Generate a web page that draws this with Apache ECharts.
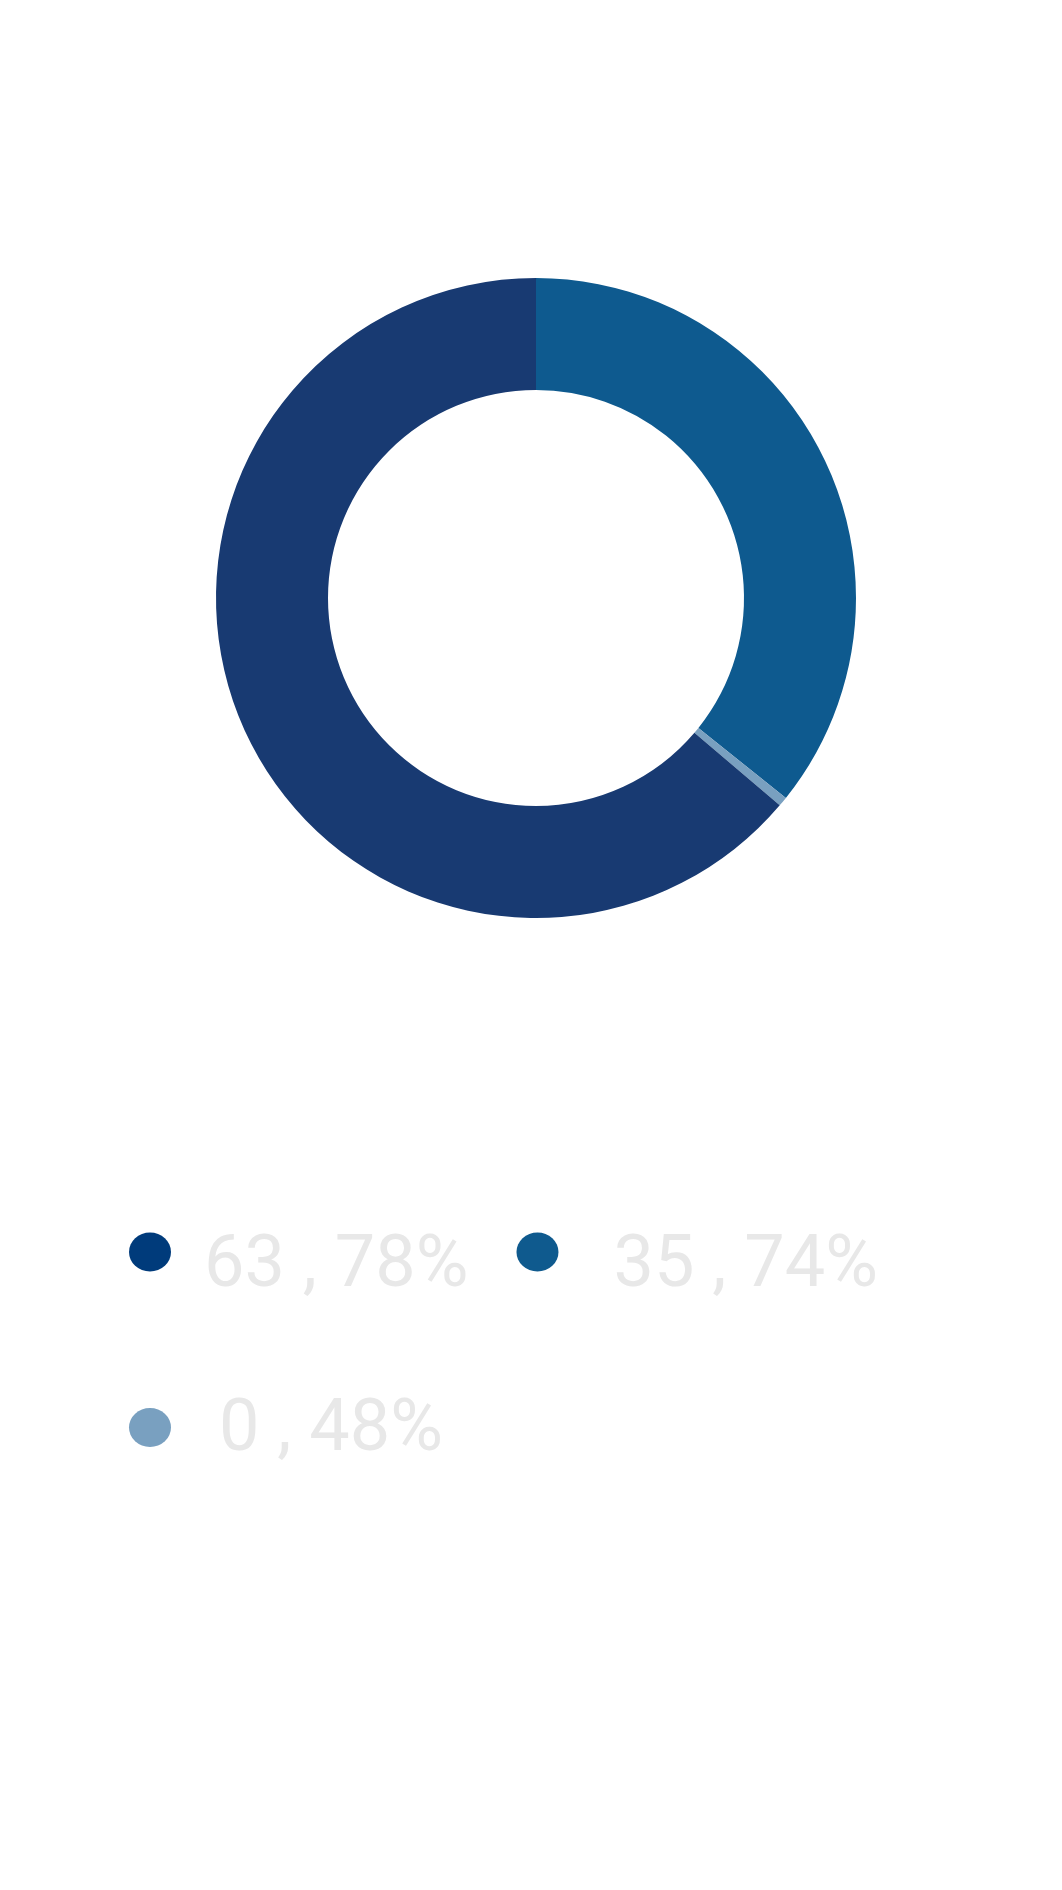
<!DOCTYPE html>
<html>
<head>
<meta charset="utf-8">
<script src="https://cdn.jsdelivr.net/npm/echarts@6/dist/echarts.min.js"></script>
<style>
  html, body { margin: 0; padding: 0; background: #fff; }
  #chart { width: 1062px; height: 1890px; }
</style>
</head>
<body>
<div id="chart"></div>
<script>
// legend order
var labels = ['63,78%', '35,74%', '0,48%'];
var values = [63.78, 35.74, 0.48];
var sliceColors = ['#183a72', '#0e5a8f', '#79a0c0'];
var dotColors = ['#003b7b', '#0f5a8e', '#79a0c0'];
// order the slices are drawn clockwise from 12 o'clock
var drawOrder = [1, 2, 0];

var myChart = echarts.init(document.getElementById('chart'));

var pieData = drawOrder.map(function (i) {
  return { name: labels[i], value: values[i], itemStyle: { color: sliceColors[i] } };
});

var dot = 'path://M0,20A21,19.5 0 1 1 42,20A21,19.5 0 1 1 0,20Z';
var txt = { fontFamily: 'Roboto', fontSize: 72, color: '#e8e8e8', lineHeight: 105 };

function legendFor(ids, top) {
  return {
    left: 124,
    top: top,
    itemGap: 48,
    itemWidth: 42,
    itemHeight: 39,
    icon: dot,
    data: ids.map(function (i) {
      return { name: labels[i], itemStyle: { color: dotColors[i] } };
    }),
    formatter: function (name) {
      var i = labels.indexOf(name);
      return '{t' + i + '|' + name.replace(',', ' , ') + '}';
    },
    textStyle: {
      color: '#e8e8e8',
      fontFamily: 'Roboto',
      fontSize: 72,
      rich: {
        t0: Object.assign({ padding: [32, 0, 0, 28] }, txt),
        t1: Object.assign({ padding: [32, 0, 0, 50] }, txt),
        t2: Object.assign({ padding: [9, 0, 0, 43] }, txt)
      }
    }
  };
}

var option = {
  backgroundColor: '#ffffff',
  animation: false,
  legend: [legendFor([0, 1], 1195), legendFor([2], 1382)],
  series: [
    {
      type: 'pie',
      center: [536, 598],
      radius: [208, 320],
      startAngle: 90,
      clockwise: true,
      label: { show: false },
      labelLine: { show: false },
      emphasis: { disabled: true },
      data: pieData
    }
  ]
};

myChart.setOption(option);
window.onresize = function () {
  myChart.resize();
};
</script>
</body>
</html>
